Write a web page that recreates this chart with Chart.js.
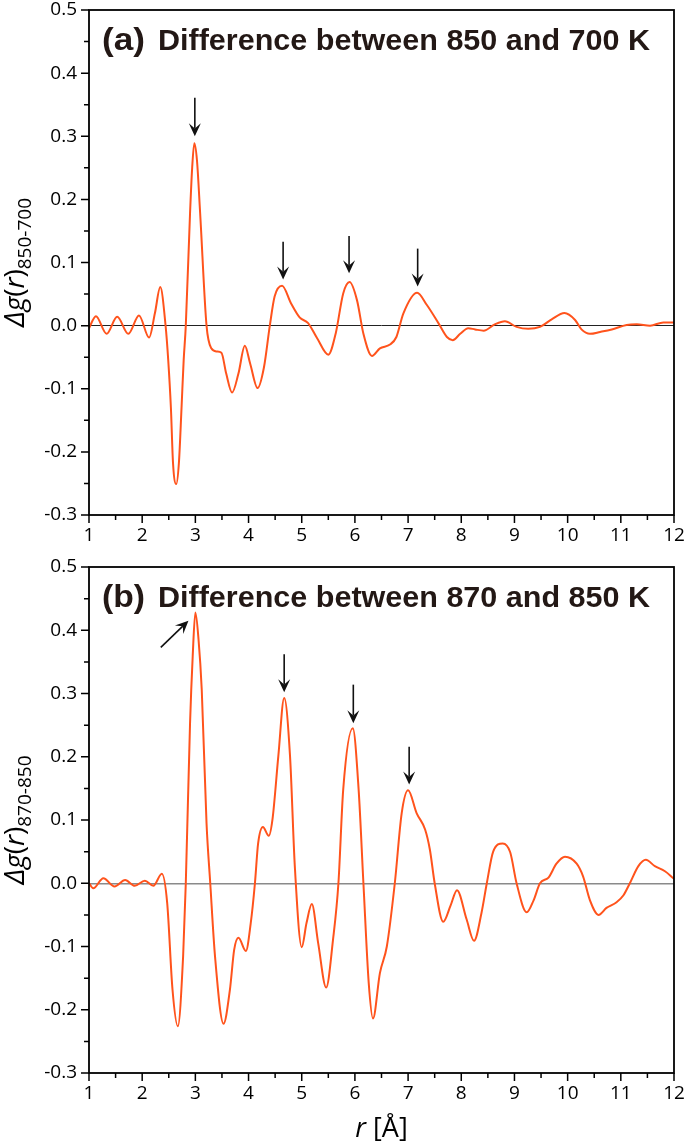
<!DOCTYPE html>
<html>
<head>
<meta charset="utf-8">
<script src="https://cdn.jsdelivr.net/npm/chart.js@4.4.1/dist/chart.umd.min.js"></script>
<style>
  html, body { margin: 0; padding: 0; background: #fff; }
  #wrap { position: relative; width: 685px; height: 1144px; }
  canvas { position: absolute; left: 0; }
</style>
</head>
<body>
<div id="wrap">
  <canvas id="chartA" width="685" height="560" style="top:0px"></canvas>
  <canvas id="chartB" width="685" height="587" style="top:557px"></canvas>
</div>
<script>
'use strict';

//////////////// data ////////////////

// (a) difference between 850 and 700 K
let rA = [1.00, 1.13, 1.33, 1.53, 1.74, 1.94, 2.13, 2.24, 2.34, 2.44, 2.49, 2.54, 2.58, 2.64, 2.69, 2.74, 2.78, 2.82,
  2.90, 2.94, 2.98, 3.03, 3.09, 3.21, 3.30, 3.40, 3.49, 3.58, 3.69, 3.81, 3.93, 4.03, 4.17, 4.29, 4.40,
  4.49, 4.63, 4.80, 4.96, 5.12, 5.29, 5.50, 5.64, 5.78, 5.90, 6.04, 6.16, 6.32, 6.47, 6.66, 6.78, 6.91,
  7.17, 7.35, 7.57, 7.73, 7.84, 7.98, 8.13, 8.26, 8.42, 8.63, 8.82, 9.04, 9.26, 9.48, 9.70, 9.94, 10.14,
  10.26, 10.42, 10.61, 10.83, 11.11, 11.30, 11.55, 11.80, 12.00];
let gA = [-0.004, 0.015, -0.013, 0.014, -0.013, 0.016, -0.019, 0.020, 0.061, 0.000, -0.055, -0.130, -0.218, -0.251, -0.218, -0.130, -0.055, 0.000,
  0.178, 0.250, 0.289, 0.262, 0.178, 0.000, -0.036, -0.041, -0.043, -0.076, -0.106, -0.076, -0.032, -0.060, -0.099, -0.066, 0.000,
  0.046, 0.063, 0.035, 0.013, 0.004, -0.020, -0.046, -0.012, 0.051, 0.069, 0.040, -0.013, -0.048, -0.036, -0.030, -0.018, 0.019,
  0.052, 0.033, 0.004, -0.018, -0.023, -0.013, -0.004, -0.006, -0.008, 0.002, 0.007, -0.002, -0.005, -0.002, 0.010, 0.020, 0.009,
  -0.006, -0.013, -0.010, -0.006, 0.001, 0.002, 0.000, 0.005, 0.005];

// (b) difference between 870 and 850 K
let rB = [1.00, 1.08, 1.27, 1.48, 1.68, 1.86, 2.05, 2.21, 2.37, 2.47, 2.57, 2.67, 2.77, 2.82, 2.90, 2.95,
  3.00, 3.06, 3.12, 3.21, 3.28, 3.37, 3.53, 3.65, 3.73, 3.81, 3.95, 4.04, 4.12, 4.18, 4.27, 4.38, 4.45,
  4.56, 4.67, 4.78, 4.87, 5.00, 5.09, 5.19, 5.31, 5.46, 5.59, 5.69, 5.78, 5.96, 6.07, 6.16, 6.26, 6.34,
  6.47, 6.60, 6.75, 6.88, 7.00, 7.16, 7.32, 7.41, 7.50, 7.66, 7.80, 7.92, 8.10, 8.24, 8.38, 8.48, 8.60,
  8.78, 8.92, 9.04, 9.23, 9.36, 9.48, 9.64, 9.79, 9.95, 10.17, 10.29, 10.42, 10.58, 10.73, 10.92, 11.05,
  11.17, 11.33, 11.47, 11.64, 11.83, 12.00];
let gB = [0.000, -0.008, 0.008, -0.005, 0.005, -0.004, 0.004, -0.004, 0.015, -0.031, -0.168, -0.226, -0.115, 0.000, 0.253, 0.359,
  0.428, 0.385, 0.306, 0.095, 0.000, -0.116, -0.222, -0.168, -0.105, -0.086, -0.107, -0.064, 0.000, 0.063, 0.089, 0.075, 0.101,
  0.201, 0.293, 0.201, 0.027, -0.101, -0.063, -0.033, -0.095, -0.165, -0.088, 0.000, 0.148, 0.245, 0.148, 0.000, -0.158, -0.214,
  -0.142, -0.100, 0.000, 0.111, 0.147, 0.111, 0.085, 0.053, 0.000, -0.061, -0.035, -0.011, -0.057, -0.091, -0.047, 0.000, 0.050,
  0.063, 0.049, 0.000, -0.046, -0.027, 0.000, 0.009, 0.031, 0.042, 0.031, 0.011, -0.027, -0.050, -0.039, -0.030, -0.019,
  0.000, 0.027, 0.037, 0.027, 0.019, 0.007];

// arrows (tail r, tail g, head r, head g)
let arrowTailRA = [2.99, 4.65, 5.89, 7.18];
let arrowTailGA = [0.361, 0.133, 0.142, 0.122];
let arrowHeadRA = [2.99, 4.65, 5.89, 7.18];
let arrowHeadGA = [0.300, 0.073, 0.083, 0.062];

let arrowTailRB = [2.35, 4.67, 5.97, 7.02];
let arrowTailGB = [0.373, 0.362, 0.314, 0.216];
let arrowHeadRB = [2.87, 4.67, 5.97, 7.02];
let arrowHeadGB = [0.415, 0.302, 0.253, 0.156];

let xTicks = [1, 2, 3, 4, 5, 6, 7, 8, 9, 10, 11, 12];
let yTicks = [-0.3, -0.2, -0.1, 0.0, 0.1, 0.2, 0.3, 0.4, 0.5];

//////////////// look ////////////////

const lineColor = '#ff531c';
const textFont = '"Open Sans", "DejaVu Sans", sans-serif';
const headFont = '"Liberation Sans", Arial, sans-serif';

//////////////// plugin: frame, minor ticks, arrows, texts ////////////////

const panelPlugin = {
  id: 'panel',
  afterDatasetsDraw(chart, args, opts) {
    const ctx = chart.ctx;
    const xs = chart.scales.x;
    const ys = chart.scales.y;
    ctx.save();
    ctx.strokeStyle = '#111';
    ctx.fillStyle = '#111';
    ctx.lineWidth = 1.6;
    for (let i = 0; i < opts.tailR.length; i++) {
      let x0 = xs.getPixelForValue(opts.tailR[i]);
      let y0 = ys.getPixelForValue(opts.tailG[i]);
      let x1 = xs.getPixelForValue(opts.headR[i]);
      let y1 = ys.getPixelForValue(opts.headG[i]);
      let ang = Math.atan2(y1 - y0, x1 - x0);
      let len = 13, hw = 6;
      ctx.beginPath();
      ctx.moveTo(x0, y0);
      ctx.lineTo(x1 - Math.cos(ang) * len * 0.6, y1 - Math.sin(ang) * len * 0.6);
      ctx.stroke();
      ctx.save();
      ctx.translate(x1, y1);
      ctx.rotate(ang);
      ctx.beginPath();
      ctx.moveTo(0, 0);
      ctx.lineTo(-len, -hw);
      ctx.lineTo(-len * 0.6, 0);
      ctx.lineTo(-len, hw);
      ctx.closePath();
      ctx.fill();
      ctx.restore();
    }
    ctx.restore();
  },
  afterDraw(chart, args, opts) {
    const ctx = chart.ctx;
    const a = chart.chartArea;
    const xs = chart.scales.x;
    const ys = chart.scales.y;
    ctx.save();
    // frame
    ctx.strokeStyle = '#000';
    ctx.lineWidth = 1.8;
    ctx.strokeRect(a.left, a.top, a.right - a.left, a.bottom - a.top);

    // ticks, outward, major + minor
    ctx.lineWidth = 1.5;
    ctx.beginPath();
    for (let i = 0; i < xTicks.length; i++) {
      let px = xs.getPixelForValue(xTicks[i]);
      ctx.moveTo(px, a.bottom);
      ctx.lineTo(px, a.bottom + 8);
      if (i < xTicks.length - 1) {
        let mx = xs.getPixelForValue((xTicks[i] + xTicks[i + 1]) / 2);
        ctx.moveTo(mx, a.bottom);
        ctx.lineTo(mx, a.bottom + 5);
      }
    }
    for (let i = 0; i < yTicks.length; i++) {
      let py = ys.getPixelForValue(yTicks[i]);
      ctx.moveTo(a.left, py);
      ctx.lineTo(a.left - 8, py);
      if (i < yTicks.length - 1) {
        let my = ys.getPixelForValue((yTicks[i] + yTicks[i + 1]) / 2);
        ctx.moveTo(a.left, my);
        ctx.lineTo(a.left - 5, my);
      }
    }
    ctx.stroke();

    // panel heading
    ctx.fillStyle = '#231815';
    ctx.textBaseline = 'alphabetic';
    ctx.textAlign = 'left';
    ctx.font = 'bold 31px ' + headFont;
    let tw = ctx.measureText(opts.tag).width;
    ctx.save();
    ctx.translate(102, a.top + 40);
    ctx.scale(43 / tw, 1);
    ctx.fillText(opts.tag, 0, 0);
    ctx.restore();
    ctx.font = 'bold 29px ' + headFont;
    let hw2 = ctx.measureText(opts.heading).width;
    ctx.save();
    ctx.translate(158, a.top + 40);
    ctx.scale(492 / hw2, 1);
    ctx.fillText(opts.heading, 0, 0);
    ctx.restore();

    // y title: Δg(r) with subscript
    let parts = [
      { t: 'Δg', f: 'italic 28px ' + textFont, dy: 0 },
      { t: '(', f: '28px ' + textFont, dy: 0 },
      { t: 'r', f: 'italic 28px ' + textFont, dy: 0 },
      { t: ')', f: '28px ' + textFont, dy: 0 },
      { t: opts.sub, f: '19px ' + textFont, dy: 7 }
    ];
    let total = 0;
    for (let p of parts) { ctx.font = p.f; p.w = ctx.measureText(p.t).width; total += p.w; }
    ctx.save();
    ctx.fillStyle = '#000';
    ctx.translate(24, (a.top + a.bottom) / 2);
    ctx.rotate(-Math.PI / 2);
    let cx = -total / 2;
    for (let p of parts) {
      ctx.font = p.f;
      ctx.fillText(p.t, cx, p.dy);
      cx += p.w;
    }
    ctx.restore();

    // x title (bottom panel only)
    if (opts.xTitle) {
      let xp = [
        { t: 'r', f: 'italic 27px ' + textFont },
        { t: ' [Å]', f: '27px ' + textFont }
      ];
      let tot = 0;
      for (let p of xp) { ctx.font = p.f; p.w = ctx.measureText(p.t).width; tot += p.w; }
      ctx.fillStyle = '#000';
      let sx = (a.left + a.right) / 2 - tot / 2;
      for (let p of xp) {
        ctx.font = p.f;
        ctx.fillText(p.t, sx, a.bottom + 64);
        sx += p.w;
      }
    }
    ctx.restore();
  }
};

//////////////// build the two panels ////////////////

function makeChart(id, rs, gs, cfg) {
  let points = [];
  for (let i = 0; i < rs.length; i++) {
    points.push({ x: rs[i], y: gs[i] });
  }
  return new Chart(document.getElementById(id), {
    type: 'scatter',
    data: {
      datasets: [{
        data: points,
        showLine: true,
        borderColor: lineColor,
        borderWidth: 2,
        pointRadius: 0,
        cubicInterpolationMode: 'monotone'
      }]
    },
    options: {
      responsive: false,
      animation: false,
      events: [],
      layout: { padding: { top: 10, right: 11, left: 0, bottom: 0 } },
      plugins: {
        legend: { display: false },
        tooltip: { enabled: false },
        panel: cfg
      },
      scales: {
        x: {
          type: 'linear',
          min: 1,
          max: 12,
          afterBuildTicks: s => { s.ticks = xTicks.map(v => ({ value: v })); },
          ticks: {
            autoSkip: false,
            maxRotation: 0,
            color: '#000',
            padding: 11,
            font: { family: textFont, size: 19, lineHeight: 1 },
            callback: v => String(v)
          },
          grid: { display: false, drawTicks: false },
          border: { display: false },
          afterFit: s => {
            s.height = cfg.xAxisH;
            s.paddingLeft = 0;
            s.paddingRight = 0;
          }
        },
        y: {
          min: -0.3,
          max: 0.5,
          afterBuildTicks: s => { s.ticks = yTicks.map(v => ({ value: v })); },
          ticks: {
            color: '#000',
            padding: 12,
            font: { family: textFont, size: 19, lineHeight: 1 },
            callback: v => (Math.abs(v) < 1e-9 ? '0.0' : v.toFixed(1))
          },
          grid: {
            drawTicks: false,
            color: c => (c.tick && Math.abs(c.tick.value) < 1e-9 ? cfg.zeroColor : 'rgba(0,0,0,0)'),
            lineWidth: cfg.zeroWidth
          },
          border: { display: false },
          afterFit: s => {
            s.width = 89;
            s.paddingTop = 0;
            s.paddingBottom = 0;
          }
        }
      }
    },
    plugins: [panelPlugin]
  });
}

makeChart('chartA', rA, gA, {
  tag: '(a)',
  heading: 'Difference between 850 and 700 K',
  sub: '850-700',
  tailR: arrowTailRA, tailG: arrowTailGA, headR: arrowHeadRA, headG: arrowHeadGA,
  zeroColor: '#222',
  zeroWidth: 1,
  xAxisH: 45,
  xTitle: false
});

makeChart('chartB', rB, gB, {
  tag: '(b)',
  heading: 'Difference between 870 and 850 K',
  sub: '870-850',
  tailR: arrowTailRB, tailG: arrowTailGB, headR: arrowHeadRB, headG: arrowHeadGB,
  zeroColor: '#8a8a8a',
  zeroWidth: 1.5,
  xAxisH: 71,
  xTitle: true
});
</script>
</body>
</html>
